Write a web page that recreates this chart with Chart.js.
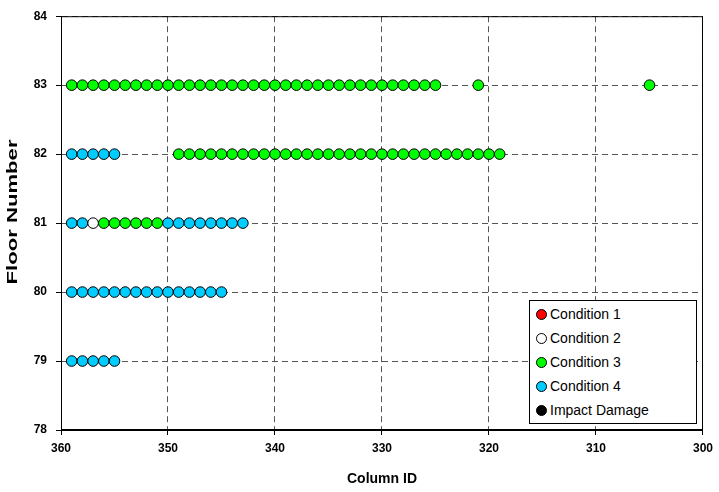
<!DOCTYPE html>
<html>
<head>
<meta charset="utf-8">
<script src="https://cdn.jsdelivr.net/npm/chart.js@4.4.1/dist/chart.umd.min.js"></script>
<style>
  html, body { margin: 0; padding: 0; background: #fff; }
  #wrap { position: relative; width: 719px; height: 492px; }
  #legend {
    position: absolute; left: 529px; top: 300px; width: 168px; height: 124px;
    border: 1px solid #000; background: #fff; box-sizing: border-box;
    font: 14px "Liberation Sans", Arial, sans-serif; color: #000; padding-top: 1px;
  }
  .li { display: flex; align-items: center; height: 24px; padding-left: 6px; }
  .dot { width: 11px; height: 11px; border-radius: 50%; border: 1px solid #000; box-sizing: border-box; margin-right: 3px; }
</style>
</head>
<body>
<div id="wrap">
  <canvas id="chart" width="719" height="492"></canvas>
  <div id="legend"></div>
</div>
<script>
// Column IDs per floor and condition
const floor83Cond3 = [359, 358, 357, 356, 355, 354, 353, 352, 351, 350, 349, 348, 347, 346, 345, 344, 343, 342,
  341, 340, 339, 338, 337, 336, 335, 334, 333, 332, 331, 330, 329, 328, 327, 326, 325, 321, 305];
const floor82Cond3 = [349, 348, 347, 346, 345, 344, 343, 342, 341, 340, 339, 338, 337, 336, 335, 334, 333, 332,
  331, 330, 329, 328, 327, 326, 325, 324, 323, 322, 321, 320, 319];
const floor81Cond3 = [356, 355, 354, 353, 352, 351];
const floor81Cond2 = [357];
const floor82Cond4 = [359, 358, 357, 356, 355];
const floor81Cond4 = [359, 358, 350, 349, 348, 347, 346, 345, 344, 343];
const floor80Cond4 = [359, 358, 357, 356, 355, 354, 353, 352, 351, 350, 349, 348, 347, 346, 345];
const floor79Cond4 = [359, 358, 357, 356, 355];

const xTicks = [360, 350, 340, 330, 320, 310, 300];
const yTicks = [78, 79, 80, 81, 82, 83, 84];

const FONT = '"Liberation Sans", Arial, sans-serif';

function pts(floor, cols) {
  return cols.map(c => ({ x: c, y: floor }));
}

const series = [
  { label: 'Condition 1', color: '#FF0000', data: [] },
  { label: 'Condition 2', color: '#FFFFFF', data: pts(81, floor81Cond2) },
  { label: 'Condition 3', color: '#00FF00',
    data: [...pts(83, floor83Cond3), ...pts(82, floor82Cond3), ...pts(81, floor81Cond3)] },
  { label: 'Condition 4', color: '#00CCFF',
    data: [...pts(82, floor82Cond4), ...pts(81, floor81Cond4), ...pts(80, floor80Cond4), ...pts(79, floor79Cond4)] },
  { label: 'Impact Damage', color: '#000000', data: [] },
];

// solid frame around the plot area
const framePlugin = {
  id: 'frame',
  beforeDatasetsDraw(chart) {
    const { ctx, chartArea: a } = chart;
    ctx.save();
    ctx.strokeStyle = '#000';
    ctx.lineWidth = 1;
    ctx.setLineDash([]);
    ctx.strokeRect(a.left + 0.5, a.top + 0.5, a.right - a.left - 1, a.bottom - a.top - 1);
    ctx.restore();
  }
};

// y title: the original is stretched along its length
const yTitlePlugin = {
  id: 'yTitle',
  afterDraw(chart) {
    const ctx = chart.ctx;
    const text = 'Floor Number';
    ctx.save();
    ctx.font = 'bold 14px ' + FONT;
    ctx.fillStyle = '#000';
    ctx.textAlign = 'center';
    ctx.textBaseline = 'middle';
    const w = ctx.measureText(text).width;
    ctx.translate(13, 212);
    ctx.rotate(-Math.PI / 2);
    ctx.scale(145 / w, 1);
    ctx.fillText(text, 0, 0);
    ctx.restore();
  }
};

const chart = new Chart(document.getElementById('chart'), {
  type: 'scatter',
  data: {
    datasets: series.map(s => ({
      label: s.label,
      data: s.data,
      backgroundColor: s.color,
      borderColor: '#000',
      borderWidth: 1,
      pointRadius: 5.3,
      pointHoverRadius: 5.3,
    }))
  },
  options: {
    responsive: false,
    animation: false,
    layout: { padding: { top: 12, right: 4, left: 0, bottom: 0 } },
    plugins: { legend: { display: false }, tooltip: { enabled: false } },
    scales: {
      x: {
        type: 'linear', min: 300, max: 360, reverse: true,
        afterBuildTicks: s => { s.ticks = xTicks.map(v => ({ value: v })); },
        afterFit: s => { s.height = 62; },
        grid: { color: '#555', tickColor: '#000', tickLength: 5, tickBorderDash: [] },
        border: { display: true, color: '#000', dash: [6, 4] },
        ticks: { color: '#000', padding: 6, font: { family: FONT, size: 12, weight: 'bold' } },
        title: { display: true, text: 'Column ID', color: '#000', padding: { top: 8 },
          font: { family: FONT, size: 14, weight: 'bold' } },
      },
      y: {
        min: 78, max: 84,
        afterBuildTicks: s => { s.ticks = yTicks.map(v => ({ value: v })); },
        afterFit: s => { s.width = 61; },
        grid: { color: '#555', tickColor: '#000', tickLength: 5, tickBorderDash: [] },
        border: { display: true, color: '#000', dash: [6, 4] },
        ticks: { color: '#000', padding: 9, font: { family: FONT, size: 12, weight: 'bold' } },
        title: { display: false },
      }
    }
  },
  plugins: [framePlugin, yTitlePlugin]
});

// legend box built from the datasets
document.getElementById('legend').innerHTML = series.map(s =>
  `<div class="li"><span class="dot" style="background:${s.color}"></span>${s.label}</div>`
).join('');
</script>
</body>
</html>
